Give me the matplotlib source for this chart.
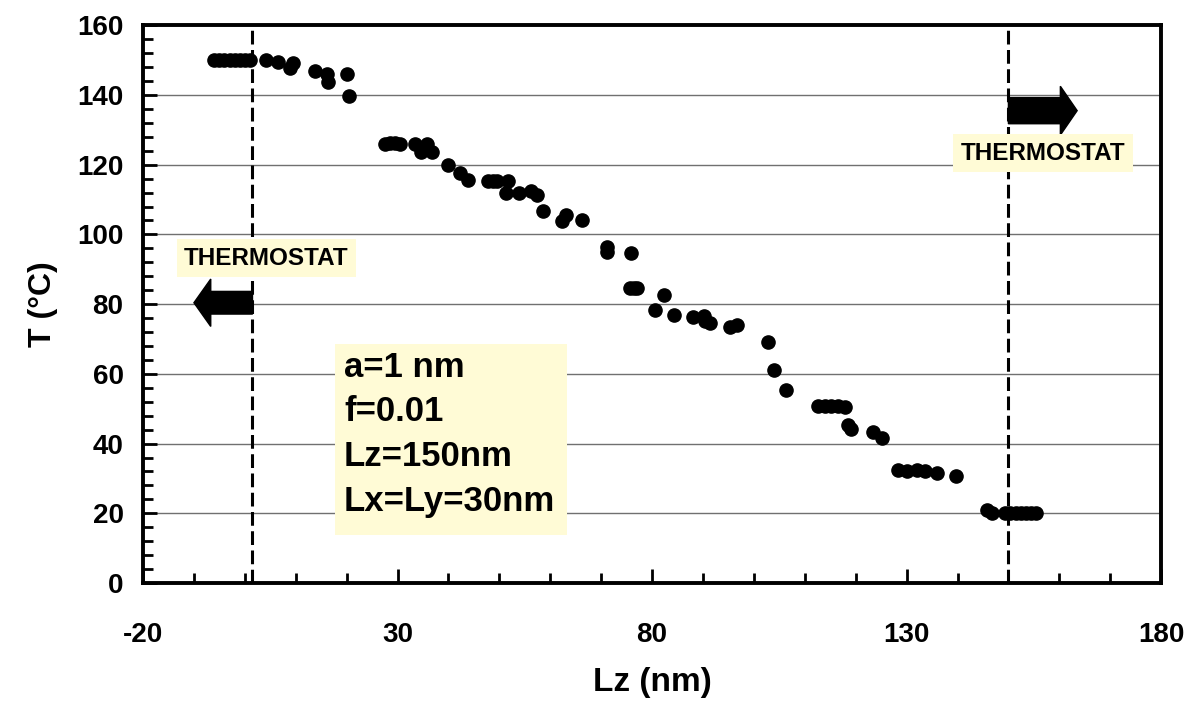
import numpy as np
import matplotlib
matplotlib.use("Agg")
import matplotlib.pyplot as plt
from matplotlib.patches import Rectangle
from matplotlib.ticker import FixedLocator, MultipleLocator

plt.rcParams['font.family'] = ['Liberation Sans', 'DejaVu Sans']
plt.rcParams['font.weight'] = 'bold'
plt.rcParams['axes.unicode_minus'] = False

# temperature profile (Lz in nm, T in degC)
lz = [-6, -5, -4, -3, -2, -1, 0, 1,
      4.2, 6.6, 8.9, 9.5, 13.8, 16.1, 16.4, 20.0, 20.5,
      27.5, 28.5, 29.5, 30.5, 33.4, 34.7, 35.7, 36.7,
      40.0, 42.3, 43.9, 47.8, 48.7, 49.5, 51.7,
      51.3, 53.9, 56.3, 57.3, 58.5, 62.4, 63.1, 66.2,
      71.2, 71.2, 75.9, 75.7, 76.4, 77.0, 82.4, 80.6, 84.4,
      88.1, 90.2, 90.4, 91.4, 95.3, 96.6,
      102.7, 104.0, 106.3,
      112.6, 113.9, 115.2, 116.5, 117.9,
      118.4, 119.0, 123.3, 125.1,
      128.3, 130.0, 132.0, 133.6, 136.0, 139.7,
      145.7, 146.7,
      149.4, 150.4, 151.4, 152.4, 153.4, 154.4, 155.5]
temp = [150, 150, 150, 150, 150, 150, 150, 150,
        150, 149.5, 147.8, 149.2, 146.8, 146.1, 143.8, 146.0, 139.8,
        126.0, 126.2, 126.2, 126.0, 126.0, 123.6, 126.0, 123.6,
        120.0, 117.7, 115.5, 115.3, 115.3, 115.3, 115.3,
        111.8, 112.0, 112.4, 111.2, 106.6, 103.9, 105.5, 104.1,
        96.4, 95.0, 94.6, 84.5, 84.5, 84.5, 82.6, 78.2, 76.8,
        76.4, 76.5, 75.1, 74.5, 73.3, 74.0,
        69.2, 61.0, 55.3,
        50.7, 50.9, 50.8, 50.9, 50.6,
        45.2, 44.1, 43.4, 41.6,
        32.5, 32.2, 32.4, 32.2, 31.6, 30.8,
        21.0, 20.2,
        20, 20, 20, 20, 20, 20, 20]

thermostat_left = 1.5
thermostat_right = 150
params = ["a=1 nm", "f=0.01", "Lz=150nm", "Lx=Ly=30nm"]

fig = plt.figure(figsize=(11.88, 7.11), dpi=100)
ax = fig.add_axes([0.1204, 0.18, 0.857, 0.7845])

ax.set_xlim(-20, 180)
ax.set_ylim(0, 160)

# horizontal grid only
ax.yaxis.grid(True, color='#707070', linewidth=1.0, zorder=0)
ax.set_axisbelow(True)

ax.plot(lz, temp, 'o', color='black', markersize=9.5, zorder=4)

# thermostat boundaries
for xb in [thermostat_left, thermostat_right]:
    ax.axvline(xb, color='black', linewidth=2.2, linestyle=(0, (4.5, 1.8)), zorder=3)

ax.arrow(thermostat_left, 80.4, -11.5, 0, width=6.5, head_width=13.6,
         head_length=3.3, length_includes_head=True, fc='black', ec='black', zorder=5)
ax.arrow(thermostat_right, 135.5, 13.5, 0, width=7.5, head_width=14,
         head_length=3.3, length_includes_head=True, fc='black', ec='black', zorder=5)

box_style = dict(boxstyle='square,pad=0.3', fc='#FFFBD6', ec='none')
ax.text(4.2, 93.2, "THERMOSTAT", fontsize=17.5, fontweight='bold', ha='center',
        va='center', bbox=box_style, zorder=6)
ax.text(156.8, 123.3, "THERMOSTAT", fontsize=17.5, fontweight='bold', ha='center',
        va='center', bbox=box_style, zorder=6)

# parameter box
ax.add_patch(Rectangle((17.7, 13.9), 45.6, 54.6, facecolor='#FFFBD6',
                       edgecolor='none', zorder=2))
for i, s in enumerate(params):
    ax.text(19.5, 61.9 - i * 12.8, s, fontsize=25, fontweight='bold',
            ha='left', va='center', zorder=6)

ax.xaxis.set_major_locator(FixedLocator([-20, 30, 80, 130, 180]))
ax.xaxis.set_minor_locator(MultipleLocator(10))
ax.yaxis.set_major_locator(MultipleLocator(20))
ax.yaxis.set_minor_locator(MultipleLocator(4))

ax.tick_params(which='both', direction='in', width=2, colors='black')
ax.tick_params(which='major', length=10, labelsize=20)
ax.tick_params(which='minor', length=7)
ax.tick_params(axis='x', which='major', pad=28)
ax.tick_params(axis='y', which='major', pad=14)
for lab in ax.get_xticklabels() + ax.get_yticklabels():
    lab.set_fontweight('bold')

for sp in ax.spines.values():
    sp.set_linewidth(2.8)
    sp.set_color('black')

ax.set_xlabel("Lz (nm)", fontsize=24, fontweight='bold', labelpad=14)
ax.set_ylabel("T (°C)", fontsize=23, fontweight='bold', labelpad=14)

fig.savefig("out.png", dpi=100)
